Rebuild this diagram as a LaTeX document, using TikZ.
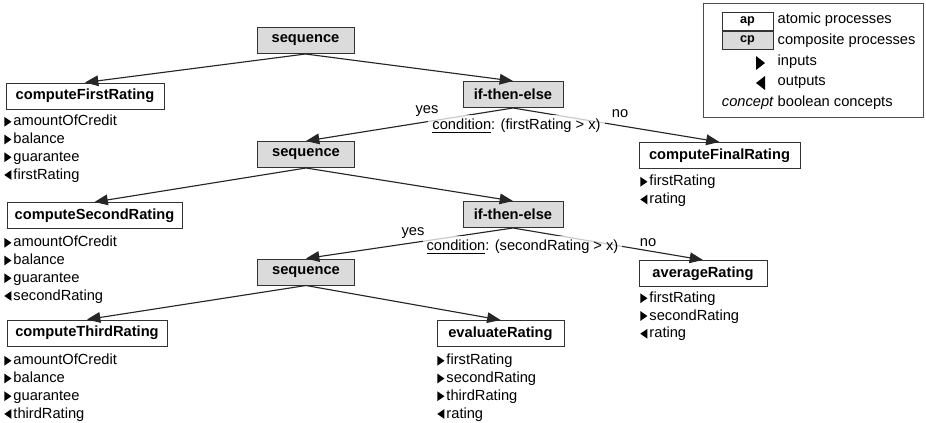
\documentclass[tikz,border=0pt]{standalone}
\usepackage{fontspec}
\setmainfont{Liberation Sans}
\usetikzlibrary{positioning, arrows.meta, calc}

% small input / output markers in front of the parameter names
\newcommand{\inmark}{\tikz[baseline=0pt]\fill[black] (0pt,-0.6pt) -- (0pt,6.8pt) -- (5.4pt,3.1pt) -- cycle;\hspace{1.5pt}}
\newcommand{\outmark}{\tikz[baseline=0pt]\fill[black] (5.4pt,-0.6pt) -- (5.4pt,6.8pt) -- (0pt,3.1pt) -- cycle;\hspace{1.5pt}}

\begin{document}
\begin{tikzpicture}[
    x=0.75pt, y=-0.75pt,
    every node/.style={font=\fontsize{11}{13.3}\selectfont},
    atomic/.style={draw=black!80, line width=0.75pt, fill=white, inner sep=0pt,
                   font=\fontsize{11}{13}\selectfont\bfseries, minimum height=19.5pt},
    composite/.style={atomic, fill=black!14},
    io/.style={align=left, anchor=north west, inner sep=0pt},
    conn/.style={draw=black!85, line width=0.85pt, -{Triangle[length=10pt, width=8pt]}},
    cond/.style={fill=white, fill opacity=0.75, text opacity=1, inner sep=3pt},
]
\useasboundingbox (0,0) rectangle (926,422);

% --- processes --------------------------------------------------------
\node[composite, minimum width=72.75pt] (seqA) at (305.5,40.5) {sequence};
\node[atomic, minimum width=118.5pt] (cfr) at (85,96) {computeFirstRating};
\node[composite, minimum width=75pt] (iteA) at (513,94.5) {if-then-else};
\node[composite, minimum width=72.75pt] (seqB) at (306,154.5) {sequence};
\node[atomic, minimum width=120.75pt] (cfinal) at (719.5,155.5) {computeFinalRating};
\node[atomic, minimum width=131.25pt] (csr) at (94.5,215.5) {computeSecondRating};
\node[composite, minimum width=75pt] (iteB) at (513,214.5) {if-then-else};
\node[atomic, minimum width=96pt] (avg) at (703,273.5) {averageRating};
\node[composite, minimum width=72.75pt] (seqC) at (306,272) {sequence};
\node[atomic, minimum width=120pt] (ctr) at (87,333) {computeThirdRating};
\node[atomic, minimum width=95.25pt] (eval) at (500.5,333.5) {evaluateRating};

% --- inputs and outputs -----------------------------------------------
\node[io] (cfrio) at (4,115)
    {\inmark amountOfCredit\\ \inmark balance\\ \inmark guarantee\\ \outmark firstRating};
\node[io] (cfinalio) at (640,175) {\inmark firstRating\\ \outmark rating};
\node[io] (csrio) at (4,236)
    {\inmark amountOfCredit\\ \inmark balance\\ \inmark guarantee\\ \outmark secondRating};
\node[io] (avgio) at (640,291.5)
    {\inmark firstRating\\ \inmark secondRating\\ \outmark rating};
\node[io] (ctrio) at (4,354)
    {\inmark amountOfCredit\\ \inmark balance\\ \inmark guarantee\\ \outmark thirdRating};
\node[io] (evalio) at (437,354)
    {\inmark firstRating\\ \inmark secondRating\\ \inmark thirdRating\\ \outmark rating};

% --- control flow -----------------------------------------------------
\draw[conn] (seqA.south) -- (cfr.north);
\draw[conn] (seqA.south) -- (iteA.north);
\draw[conn] (iteA.south) -- (seqB.north);
\draw[conn] (iteA.south) -- (cfinal.north);
\draw[conn] (seqB.south) -- (csr.north);
\draw[conn] (seqB.south) -- (iteB.north);
\draw[conn] (iteB.south) -- (seqC.north);
\draw[conn] (iteB.south) -- (avg.north);
\draw[conn] (seqC.south) -- (ctr.north);
\draw[conn] (seqC.south) -- (eval.north);

% branch labels
\node (yesA) at (427,111) {yes};
\node (noA) at (620,114) {no};
\node[cond] (condA) at (516.5,126) {\underline{condition}: (firstRating > x)};
\node (yesB) at (413,233) {yes};
\node (noB) at (648,243) {no};
\node[cond] (condB) at (522.5,247) {\underline{condition}: (secondRating > x)};

% --- legend -----------------------------------------------------------
\draw[draw=black!70, line width=0.75pt] (703,3) rectangle (923,117);
\node[atomic, minimum width=38.25pt, minimum height=13.5pt,
      font=\fontsize{9.5}{10}\selectfont\bfseries] (apkey) at (747.5,21) {ap};
\node[anchor=west] (aptext) at (773,20) {atomic processes};
\node[composite, minimum width=38.25pt, minimum height=13.5pt,
      font=\fontsize{9.5}{10}\selectfont\bfseries] (cpkey) at (747.5,40) {cp};
\node[anchor=west] (cptext) at (773,41) {composite processes};
\fill (756,56) -- (756,70) -- (765,63) -- cycle;
\node[anchor=west] (intext) at (773,62) {inputs};
\fill (765,76) -- (765,90) -- (756,83) -- cycle;
\node[anchor=west] (outtext) at (773,82) {outputs};
\node[anchor=east, font=\fontsize{11}{13}\selectfont\itshape] (conceptkey) at (778,103) {concept};
\node[anchor=west] (concepttext) at (773,103) {boolean concepts};

\end{tikzpicture}
\end{document}
